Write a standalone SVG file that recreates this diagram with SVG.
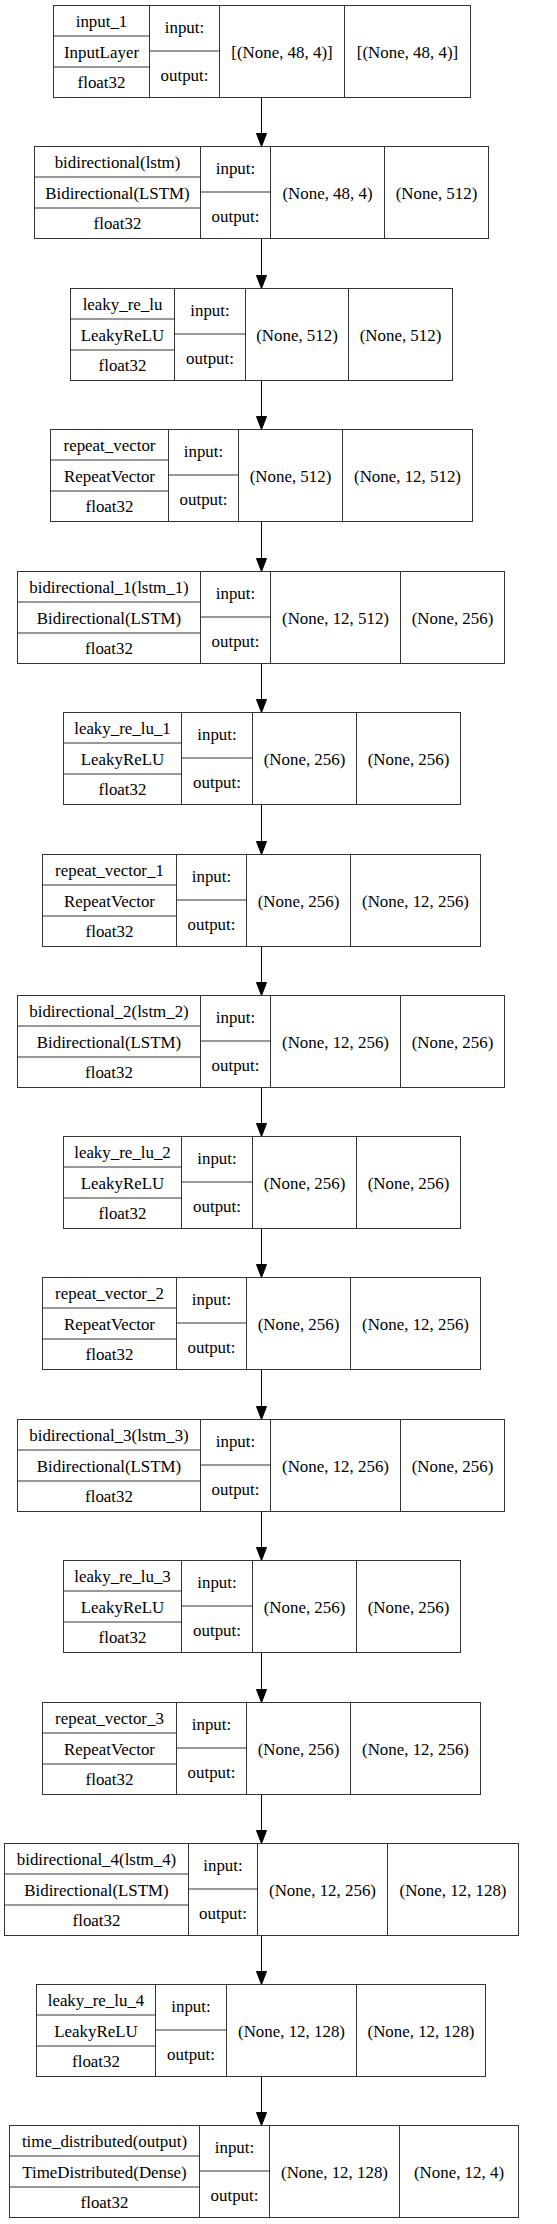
<svg xmlns="http://www.w3.org/2000/svg" width="557" height="2224" viewBox="0 0 557 2224">
<style>
.b{fill:#fff;stroke:#333;stroke-width:1}
.d{stroke:#333;stroke-width:1;fill:none}
text{font-family:"Liberation Serif","Times New Roman",serif;font-size:16.9px;fill:#000;text-anchor:middle}
.c{stroke:#000;stroke-width:1;fill:none}
.h{fill:#000;stroke:#000;stroke-width:1}
</style>
<rect width="557" height="2224" fill="#fff"/>
<g id="connectors">
<line class="c" x1="261.5" y1="97.5" x2="261.5" y2="133.5"/><polygon class="h" points="256.5,133.5 266.5,133.5 261.5,146.5"/>
<line class="c" x1="261.5" y1="238.5" x2="261.5" y2="275.5"/><polygon class="h" points="256.5,275.5 266.5,275.5 261.5,288.5"/>
<line class="c" x1="261.5" y1="380.5" x2="261.5" y2="416.5"/><polygon class="h" points="256.5,416.5 266.5,416.5 261.5,429.5"/>
<line class="c" x1="261.5" y1="521.5" x2="261.5" y2="558.5"/><polygon class="h" points="256.5,558.5 266.5,558.5 261.5,571.5"/>
<line class="c" x1="261.5" y1="663.5" x2="261.5" y2="699.5"/><polygon class="h" points="256.5,699.5 266.5,699.5 261.5,712.5"/>
<line class="c" x1="261.5" y1="804.5" x2="261.5" y2="841.5"/><polygon class="h" points="256.5,841.5 266.5,841.5 261.5,854.5"/>
<line class="c" x1="261.5" y1="946.5" x2="261.5" y2="982.5"/><polygon class="h" points="256.5,982.5 266.5,982.5 261.5,995.5"/>
<line class="c" x1="261.5" y1="1087.5" x2="261.5" y2="1123.5"/><polygon class="h" points="256.5,1123.5 266.5,1123.5 261.5,1136.5"/>
<line class="c" x1="261.5" y1="1228.5" x2="261.5" y2="1264.5"/><polygon class="h" points="256.5,1264.5 266.5,1264.5 261.5,1277.5"/>
<line class="c" x1="261.5" y1="1369.5" x2="261.5" y2="1406.5"/><polygon class="h" points="256.5,1406.5 266.5,1406.5 261.5,1419.5"/>
<line class="c" x1="261.5" y1="1511.5" x2="261.5" y2="1547.5"/><polygon class="h" points="256.5,1547.5 266.5,1547.5 261.5,1560.5"/>
<line class="c" x1="261.5" y1="1652.5" x2="261.5" y2="1689.5"/><polygon class="h" points="256.5,1689.5 266.5,1689.5 261.5,1702.5"/>
<line class="c" x1="261.5" y1="1794.5" x2="261.5" y2="1830.5"/><polygon class="h" points="256.5,1830.5 266.5,1830.5 261.5,1843.5"/>
<line class="c" x1="261.5" y1="1935.5" x2="261.5" y2="1971.5"/><polygon class="h" points="256.5,1971.5 266.5,1971.5 261.5,1984.5"/>
<line class="c" x1="261.5" y1="2076.5" x2="261.5" y2="2112.5"/><polygon class="h" points="256.5,2112.5 266.5,2112.5 261.5,2125.5"/>
</g>

<g id="input_1" transform="translate(0,5.5)">
<rect class="b" x="53.5" y="0" width="417" height="92"/>
<path class="d" d="M149.5,0V92M219.5,0V92M344.5,0V92M53.5,30.5H149.5M53.5,61.5H149.5M149.5,45.5H219.5"/>
<text x="101.5" y="21.2">input_1</text><text x="101.5" y="52">InputLayer</text><text x="101.5" y="82.5">float32</text>
<text x="184.5" y="27">input:</text><text x="184.5" y="75">output:</text>
<text x="282" y="52.5">[(None, 48, 4)]</text><text x="407.5" y="52.5">[(None, 48, 4)]</text>
</g>

<g id="bidirectional" transform="translate(0,146.5)">
<rect class="b" x="34.5" y="0" width="454" height="92"/>
<path class="d" d="M200.5,0V92M270.5,0V92M384.5,0V92M34.5,30.5H200.5M34.5,61.5H200.5M200.5,45.5H270.5"/>
<text x="117.5" y="21.2">bidirectional(lstm)</text><text x="117.5" y="52">Bidirectional(LSTM)</text><text x="117.5" y="82.5">float32</text>
<text x="235.5" y="27">input:</text><text x="235.5" y="75">output:</text>
<text x="327.5" y="52.5">(None, 48, 4)</text><text x="436.5" y="52.5">(None, 512)</text>
</g>

<g id="leaky_re_lu" transform="translate(0,288.5)">
<rect class="b" x="70.5" y="0" width="382" height="92"/>
<path class="d" d="M174.5,0V92M245.5,0V92M348.5,0V92M70.5,30.5H174.5M70.5,61.5H174.5M174.5,45.5H245.5"/>
<text x="122.5" y="21.2">leaky_re_lu</text><text x="122.5" y="52">LeakyReLU</text><text x="122.5" y="82.5">float32</text>
<text x="210" y="27">input:</text><text x="210" y="75">output:</text>
<text x="297" y="52.5">(None, 512)</text><text x="400.5" y="52.5">(None, 512)</text>
</g>

<g id="repeat_vector" transform="translate(0,429.5)">
<rect class="b" x="50.5" y="0" width="422" height="92"/>
<path class="d" d="M168.5,0V92M238.5,0V92M342.5,0V92M50.5,30.5H168.5M50.5,61.5H168.5M168.5,45.5H238.5"/>
<text x="109.5" y="21.2">repeat_vector</text><text x="109.5" y="52">RepeatVector</text><text x="109.5" y="82.5">float32</text>
<text x="203.5" y="27">input:</text><text x="203.5" y="75">output:</text>
<text x="290.5" y="52.5">(None, 512)</text><text x="407.5" y="52.5">(None, 12, 512)</text>
</g>

<g id="bidirectional_1" transform="translate(0,571.5)">
<rect class="b" x="17.5" y="0" width="487" height="92"/>
<path class="d" d="M200.5,0V92M270.5,0V92M400.5,0V92M17.5,30.5H200.5M17.5,61.5H200.5M200.5,45.5H270.5"/>
<text x="109" y="21.2">bidirectional_1(lstm_1)</text><text x="109" y="52">Bidirectional(LSTM)</text><text x="109" y="82.5">float32</text>
<text x="235.5" y="27">input:</text><text x="235.5" y="75">output:</text>
<text x="335.5" y="52.5">(None, 12, 512)</text><text x="452.5" y="52.5">(None, 256)</text>
</g>

<g id="leaky_re_lu_1" transform="translate(0,712.5)">
<rect class="b" x="63.5" y="0" width="397" height="92"/>
<path class="d" d="M181.5,0V92M252.5,0V92M356.5,0V92M63.5,30.5H181.5M63.5,61.5H181.5M181.5,45.5H252.5"/>
<text x="122.5" y="21.2">leaky_re_lu_1</text><text x="122.5" y="52">LeakyReLU</text><text x="122.5" y="82.5">float32</text>
<text x="217" y="27">input:</text><text x="217" y="75">output:</text>
<text x="304.5" y="52.5">(None, 256)</text><text x="408.5" y="52.5">(None, 256)</text>
</g>

<g id="repeat_vector_1" transform="translate(0,854.5)">
<rect class="b" x="42.5" y="0" width="438" height="92"/>
<path class="d" d="M176.5,0V92M246.5,0V92M350.5,0V92M42.5,30.5H176.5M42.5,61.5H176.5M176.5,45.5H246.5"/>
<text x="109.5" y="21.2">repeat_vector_1</text><text x="109.5" y="52">RepeatVector</text><text x="109.5" y="82.5">float32</text>
<text x="211.5" y="27">input:</text><text x="211.5" y="75">output:</text>
<text x="298.5" y="52.5">(None, 256)</text><text x="415.5" y="52.5">(None, 12, 256)</text>
</g>

<g id="bidirectional_2" transform="translate(0,995.5)">
<rect class="b" x="17.5" y="0" width="487" height="92"/>
<path class="d" d="M200.5,0V92M270.5,0V92M400.5,0V92M17.5,30.5H200.5M17.5,61.5H200.5M200.5,45.5H270.5"/>
<text x="109" y="21.2">bidirectional_2(lstm_2)</text><text x="109" y="52">Bidirectional(LSTM)</text><text x="109" y="82.5">float32</text>
<text x="235.5" y="27">input:</text><text x="235.5" y="75">output:</text>
<text x="335.5" y="52.5">(None, 12, 256)</text><text x="452.5" y="52.5">(None, 256)</text>
</g>

<g id="leaky_re_lu_2" transform="translate(0,1136.5)">
<rect class="b" x="63.5" y="0" width="397" height="92"/>
<path class="d" d="M181.5,0V92M252.5,0V92M356.5,0V92M63.5,30.5H181.5M63.5,61.5H181.5M181.5,45.5H252.5"/>
<text x="122.5" y="21.2">leaky_re_lu_2</text><text x="122.5" y="52">LeakyReLU</text><text x="122.5" y="82.5">float32</text>
<text x="217" y="27">input:</text><text x="217" y="75">output:</text>
<text x="304.5" y="52.5">(None, 256)</text><text x="408.5" y="52.5">(None, 256)</text>
</g>

<g id="repeat_vector_2" transform="translate(0,1277.5)">
<rect class="b" x="42.5" y="0" width="438" height="92"/>
<path class="d" d="M176.5,0V92M246.5,0V92M350.5,0V92M42.5,30.5H176.5M42.5,61.5H176.5M176.5,45.5H246.5"/>
<text x="109.5" y="21.2">repeat_vector_2</text><text x="109.5" y="52">RepeatVector</text><text x="109.5" y="82.5">float32</text>
<text x="211.5" y="27">input:</text><text x="211.5" y="75">output:</text>
<text x="298.5" y="52.5">(None, 256)</text><text x="415.5" y="52.5">(None, 12, 256)</text>
</g>

<g id="bidirectional_3" transform="translate(0,1419.5)">
<rect class="b" x="17.5" y="0" width="487" height="92"/>
<path class="d" d="M200.5,0V92M270.5,0V92M400.5,0V92M17.5,30.5H200.5M17.5,61.5H200.5M200.5,45.5H270.5"/>
<text x="109" y="21.2">bidirectional_3(lstm_3)</text><text x="109" y="52">Bidirectional(LSTM)</text><text x="109" y="82.5">float32</text>
<text x="235.5" y="27">input:</text><text x="235.5" y="75">output:</text>
<text x="335.5" y="52.5">(None, 12, 256)</text><text x="452.5" y="52.5">(None, 256)</text>
</g>

<g id="leaky_re_lu_3" transform="translate(0,1560.5)">
<rect class="b" x="63.5" y="0" width="397" height="92"/>
<path class="d" d="M181.5,0V92M252.5,0V92M356.5,0V92M63.5,30.5H181.5M63.5,61.5H181.5M181.5,45.5H252.5"/>
<text x="122.5" y="21.2">leaky_re_lu_3</text><text x="122.5" y="52">LeakyReLU</text><text x="122.5" y="82.5">float32</text>
<text x="217" y="27">input:</text><text x="217" y="75">output:</text>
<text x="304.5" y="52.5">(None, 256)</text><text x="408.5" y="52.5">(None, 256)</text>
</g>

<g id="repeat_vector_3" transform="translate(0,1702.5)">
<rect class="b" x="42.5" y="0" width="438" height="92"/>
<path class="d" d="M176.5,0V92M246.5,0V92M350.5,0V92M42.5,30.5H176.5M42.5,61.5H176.5M176.5,45.5H246.5"/>
<text x="109.5" y="21.2">repeat_vector_3</text><text x="109.5" y="52">RepeatVector</text><text x="109.5" y="82.5">float32</text>
<text x="211.5" y="27">input:</text><text x="211.5" y="75">output:</text>
<text x="298.5" y="52.5">(None, 256)</text><text x="415.5" y="52.5">(None, 12, 256)</text>
</g>

<g id="bidirectional_4" transform="translate(0,1843.5)">
<rect class="b" x="4.5" y="0" width="514" height="92"/>
<path class="d" d="M188.5,0V92M257.5,0V92M387.5,0V92M4.5,30.5H188.5M4.5,61.5H188.5M188.5,45.5H257.5"/>
<text x="96.5" y="21.2">bidirectional_4(lstm_4)</text><text x="96.5" y="52">Bidirectional(LSTM)</text><text x="96.5" y="82.5">float32</text>
<text x="223" y="27">input:</text><text x="223" y="75">output:</text>
<text x="322.5" y="52.5">(None, 12, 256)</text><text x="453" y="52.5">(None, 12, 128)</text>
</g>

<g id="leaky_re_lu_4" transform="translate(0,1984.5)">
<rect class="b" x="36.5" y="0" width="449" height="92"/>
<path class="d" d="M155.5,0V92M226.5,0V92M356.5,0V92M36.5,30.5H155.5M36.5,61.5H155.5M155.5,45.5H226.5"/>
<text x="96" y="21.2">leaky_re_lu_4</text><text x="96" y="52">LeakyReLU</text><text x="96" y="82.5">float32</text>
<text x="191" y="27">input:</text><text x="191" y="75">output:</text>
<text x="291.5" y="52.5">(None, 12, 128)</text><text x="421" y="52.5">(None, 12, 128)</text>
</g>

<g id="time_distributed" transform="translate(0,2125.5)">
<rect class="b" x="9.5" y="0" width="509" height="92"/>
<path class="d" d="M199.5,0V92M269.5,0V92M399.5,0V92M9.5,30.5H199.5M9.5,61.5H199.5M199.5,45.5H269.5"/>
<text x="104.5" y="21.2">time_distributed(output)</text><text x="104.5" y="52">TimeDistributed(Dense)</text><text x="104.5" y="82.5">float32</text>
<text x="234.5" y="27">input:</text><text x="234.5" y="75">output:</text>
<text x="334.5" y="52.5">(None, 12, 128)</text><text x="459" y="52.5">(None, 12, 4)</text>
</g>
</svg>
